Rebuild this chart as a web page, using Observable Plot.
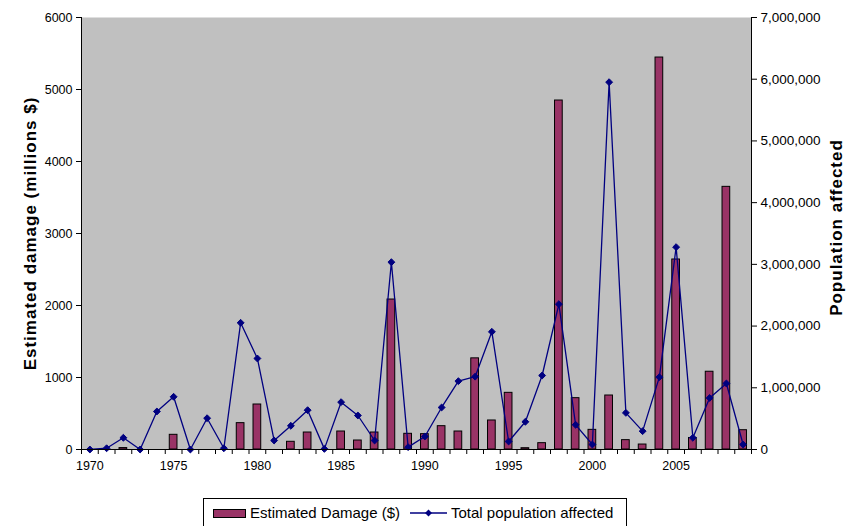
<!DOCTYPE html>
<html>
<head>
<meta charset="utf-8">
<script src="https://cdn.jsdelivr.net/npm/d3@7"></script>
<script src="https://cdn.jsdelivr.net/npm/@observablehq/plot@0.6"></script>
<style>
  html, body { margin: 0; padding: 0; background: #fff; }
  body { width: 854px; height: 526px; position: relative; overflow: hidden; font-family: "Liberation Sans", Arial, sans-serif; }
  #chart { position: absolute; left: 0; top: 0; }
  #legend {
    position: absolute; left: 203px; top: 498px; width: 424px; height: 30px;
    border: 1px solid #000; background: #fff; box-sizing: border-box;
    font-size: 15px; color: #000; white-space: nowrap;
  }
  #legend .item { position: absolute; top: 5px; line-height: 17px; }
  #legend .sw { position: absolute; left: 9px; top: 10px; width: 33px; height: 9px; background: #993366; border: 1px solid #000; box-sizing: border-box; }
</style>
</head>
<body>
<div id="chart"></div>
<div id="legend">
  <span class="sw"></span>
  <span class="item" style="left:46px">Estimated Damage ($)</span>
  <svg style="position:absolute;left:206px;top:7px" width="38" height="14">
    <line x1="0" y1="7" x2="37" y2="7" stroke="#000080" stroke-width="1.3"></line>
    <path d="M18.5,3.5L22,7L18.5,10.5L15,7Z" fill="#000080"></path>
  </svg>
  <span class="item" style="left:247px">Total population affected</span>
</div>
<script>
// ---- data ----
const years = [1970,1971,1972,1973,1974,1975,1976,1977,1978,1979,
               1980,1981,1982,1983,1984,1985,1986,1987,1988,1989,
               1990,1991,1992,1993,1994,1995,1996,1997,1998,1999,
               2000,2001,2002,2003,2004,2005,2006,2007,2008,2009];
// Estimated damage, millions $
const damage = [0,0,20,0,0,204,0,0,0,366,
                625,0,107,236,0,250,125,236,2083,218,
                213,324,250,1266,403,787,18,88,4847,713,
                273,750,130,69,5444,2639,160,1080,3648,268];
// Total population affected
const population = [0,20000,190000,0,616000,854000,0,507000,20000,2053000,
                    1475000,146000,384000,637000,10000,767000,551000,146000,3035000,38000,
                    211000,681000,1107000,1180000,1907000,130000,449000,1199000,2355000,400000,
                    81000,5952000,594000,297000,1172000,3279000,190000,835000,1070000,81000];
const damageTicks = [0,1000,2000,3000,4000,5000,6000];
const popTicks = [0,1000000,2000000,3000000,4000000,5000000,6000000,7000000];
const xLabelYears = [1970,1975,1980,1985,1990,1995,2000,2005];
const leftTitle = "Estimated damage (millions $)";
const rightTitle = "Population affected";

// ---- build ----
const DAMAGE_MAX = 6000, POP_MAX = 7000000;
const k = DAMAGE_MAX / POP_MAX; // secondary axis mapped onto primary y scale
const data = years.map((year, i) => ({year, damage: damage[i], pop: population[i]}));
const boundaries = [years[0] - 0.5, ...years.map(y => y + 0.5)];
const halfBar = 0.23;

const chart = Plot.plot({
  width: 854,
  height: 496,
  marginLeft: 81,
  marginRight: 103,
  marginTop: 17,
  marginBottom: 47,
  style: {fontFamily: '"Liberation Sans", Arial, sans-serif', fontSize: "12px", background: "transparent", color: "#000"},
  x: {domain: [years[0] - 0.5, years[years.length - 1] + 0.5], axis: null},
  y: {domain: [0, DAMAGE_MAX], axis: null},
  marks: [
    Plot.frame({fill: "#c0c0c0", stroke: null}),
    Plot.rectY(data.filter(d => d.damage > 0), {
      x1: d => d.year - halfBar, x2: d => d.year + halfBar, y: "damage",
      fill: "#993366", stroke: "#000", strokeWidth: 1
    }),
    Plot.line(data, {x: "year", y: d => d.pop * k, stroke: "#000080", strokeWidth: 1.3}),
    Plot.dot(data, {x: "year", y: d => d.pop * k, symbol: "diamond2", r: 3.1, fill: "#000080", stroke: "#000080", strokeWidth: 1}),
    Plot.ruleY([0], {stroke: "#000", strokeWidth: 1}),
    Plot.ruleX([boundaries[0]], {stroke: "#000", strokeWidth: 1}),
    Plot.ruleX([boundaries[boundaries.length - 1]], {stroke: "#000", strokeWidth: 1}),
    Plot.axisY(damageTicks, {anchor: "left", tickSize: 5, tickPadding: 4, tickFormat: d => String(d), label: null, fontSize: 12.5}),
    Plot.axisY(popTicks.map(v => v * k), {anchor: "right", tickSize: 5, tickPadding: 4, tickFormat: v => d3.format(",")(Math.round(v / k)), label: null, fontSize: 13.5}),
    Plot.axisX(boundaries, {anchor: "bottom", tickSize: 5, tickFormat: () => "", label: null}),
    Plot.axisX(xLabelYears, {anchor: "bottom", tickSize: 0, tickPadding: 12, tickFormat: d => String(d), label: null, fontSize: 12.5}),
    Plot.text([leftTitle], {frameAnchor: "left", dx: -51, rotate: -90, fontWeight: "bold", fontSize: 17, textAnchor: "middle"}),
    Plot.text([rightTitle], {frameAnchor: "right", dx: 85, dy: -6, rotate: -90, fontWeight: "bold", fontSize: 17, textAnchor: "middle"})
  ]
});
chart.querySelectorAll("text").forEach(t => {
  if (t.textContent === leftTitle || t.textContent === rightTitle) t.setAttribute("letter-spacing", "1");
});
document.getElementById("chart").appendChild(chart);
</script>
</body>
</html>
